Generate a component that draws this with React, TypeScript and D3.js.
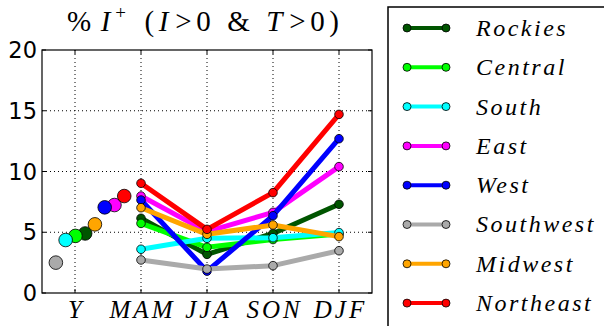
import React from 'react'
import * as d3 from 'd3';

// seasons on the x axis ("Y" = annual)
const seasons = ["Y", "MAM", "JJA", "SON", "DJF"];
const yTicks = [0, 5, 10, 15, 20];

const regions = ["Rockies", "Central", "South", "East", "West", "Southwest", "Midwest", "Northeast"];
const colors = ["#005500", "#00ff00", "#00ffff", "#ff00ff", "#0000ff", "#aaaaaa", "#ffa500", "#ff0000"];

// annual values
const annual = [4.9, 4.7, 4.36, 7.24, 7.05, 2.5, 5.65, 7.98];

// MAM, JJA, SON, DJF
const seasonal = [
    [6.15, 3.18, 4.9, 7.3],   // Rockies
    [5.73, 3.76, 4.4, 4.85],  // Central
    [3.6, 4.5, 4.55, 4.97],   // South
    [7.98, 5.05, 6.64, 10.4], // East
    [7.65, 1.8, 6.36, 12.7],  // West
    [2.72, 1.97, 2.25, 3.48], // Southwest
    [7.02, 4.83, 5.6, 4.64],  // Midwest
    [9.03, 5.24, 8.26, 14.7], // Northeast
];

export default function App() {
    let width = 604;
    let height = 326;

    let x = d3.scaleLinear().domain([0.5, 5.5]).range([42, 372]);
    let y = d3.scaleLinear().domain([0, 20]).range([293, 50]);

    // annual points spread beside the Y tick, ordered by value
    let order = d3.range(regions.length).sort((a, b) => annual[a] - annual[b]);
    let annualX = new Array(regions.length);
    order.forEach((r, rank) => { annualX[r] = 1 - 0.29 + rank * 0.148; });

    let line = d3.line<number>()
        .x((d, i) => x(i + 2))
        .y(d => y(d));

    let serif = "'Liberation Serif', serif";

    return (
        <svg width={width} height={height} style={{ position: 'absolute', left: 0, top: 0, background: 'white' }}>
            {/* title */}
            <text x={67} y={31} fontFamily={serif} fontSize={29} fill="black" textLength={272} lengthAdjust="spacing">
                <tspan>%</tspan>
                <tspan fontStyle="italic" dx={5}>I</tspan>
                <tspan fontSize={19} dy={-12}>+</tspan>
                <tspan dy={12} dx={14}>(</tspan>
                <tspan fontStyle="italic">I</tspan>
                <tspan dx={2}>{">0 & "}</tspan>
                <tspan fontStyle="italic">T</tspan>
                <tspan dx={2}>{">0)"}</tspan>
            </text>

            {/* grid */}
            {seasons.map((s, i) => (
                <line key={"gx" + s} x1={x(i + 1)} x2={x(i + 1)} y1={y(20)} y2={y(0)}
                    stroke="black" strokeWidth={1} strokeDasharray="1,3" />
            ))}
            {yTicks.slice(1, -1).map(t => (
                <line key={"gy" + t} x1={x(0.5)} x2={x(5.5)} y1={y(t)} y2={y(t)}
                    stroke="black" strokeWidth={1} strokeDasharray="1,3" />
            ))}

            {/* seasonal lines */}
            {regions.map((r, k) => (
                <g key={r}>
                    <path d={line(seasonal[k]) || ""} fill="none" stroke={colors[k]} strokeWidth={5} strokeLinejoin="round" />
                    {seasonal[k].map((v, i) => (
                        <circle key={i} cx={x(i + 2)} cy={y(v)} r={4.3} fill={colors[k]} stroke="black" strokeWidth={0.8} />
                    ))}
                </g>
            ))}

            {/* annual points */}
            {regions.map((r, k) => (
                <circle key={"a" + r} cx={x(annualX[k])} cy={y(annual[k])} r={6.8} fill={colors[k]} stroke="black" strokeWidth={0.8} />
            ))}

            {/* frame */}
            <rect x={x(0.5)} y={y(20)} width={x(5.5) - x(0.5)} height={y(0) - y(20)} fill="none" stroke="black" strokeWidth={1.2} />

            {/* ticks */}
            {seasons.map((s, i) => (
                <g key={"tx" + s}>
                    <line x1={x(i + 1)} x2={x(i + 1)} y1={y(0)} y2={y(0) - 4} stroke="black" />
                    <line x1={x(i + 1)} x2={x(i + 1)} y1={y(20)} y2={y(20) + 4} stroke="black" />
                    <text x={x(i + 1) + 1.5} y={318} textAnchor="middle" fontFamily={serif} fontStyle="italic" fontSize={25} letterSpacing={3}>{s}</text>
                </g>
            ))}
            {yTicks.map(t => (
                <g key={"ty" + t}>
                    <line x1={x(0.5)} x2={x(0.5) + 4} y1={y(t)} y2={y(t)} stroke="black" />
                    <line x1={x(5.5)} x2={x(5.5) - 4} y1={y(t)} y2={y(t)} stroke="black" />
                    <text x={37} y={y(t)} dy="0.36em" textAnchor="end" fontFamily="'DejaVu Sans', sans-serif" fontSize={22.5}>{t}</text>
                </g>
            ))}

            {/* legend */}
            <rect x={388} y={7} width={300} height={400} fill="white" stroke="black" strokeWidth={1.5} />
            {regions.map((r, k) => {
                let ly = 28 + k * 39.3;
                return (
                    <g key={"l" + r}>
                        <line x1={407} x2={446} y1={ly} y2={ly} stroke={colors[k]} strokeWidth={4} />
                        <circle cx={407} cy={ly} r={4} fill={colors[k]} stroke="black" strokeWidth={0.8} />
                        <circle cx={446} cy={ly} r={4} fill={colors[k]} stroke="black" strokeWidth={0.8} />
                        <text x={476} y={ly} dy="0.33em" fontFamily={serif} fontStyle="italic" fontSize={24} letterSpacing={2.5}>{r}</text>
                    </g>
                );
            })}
        </svg>
    );
}
